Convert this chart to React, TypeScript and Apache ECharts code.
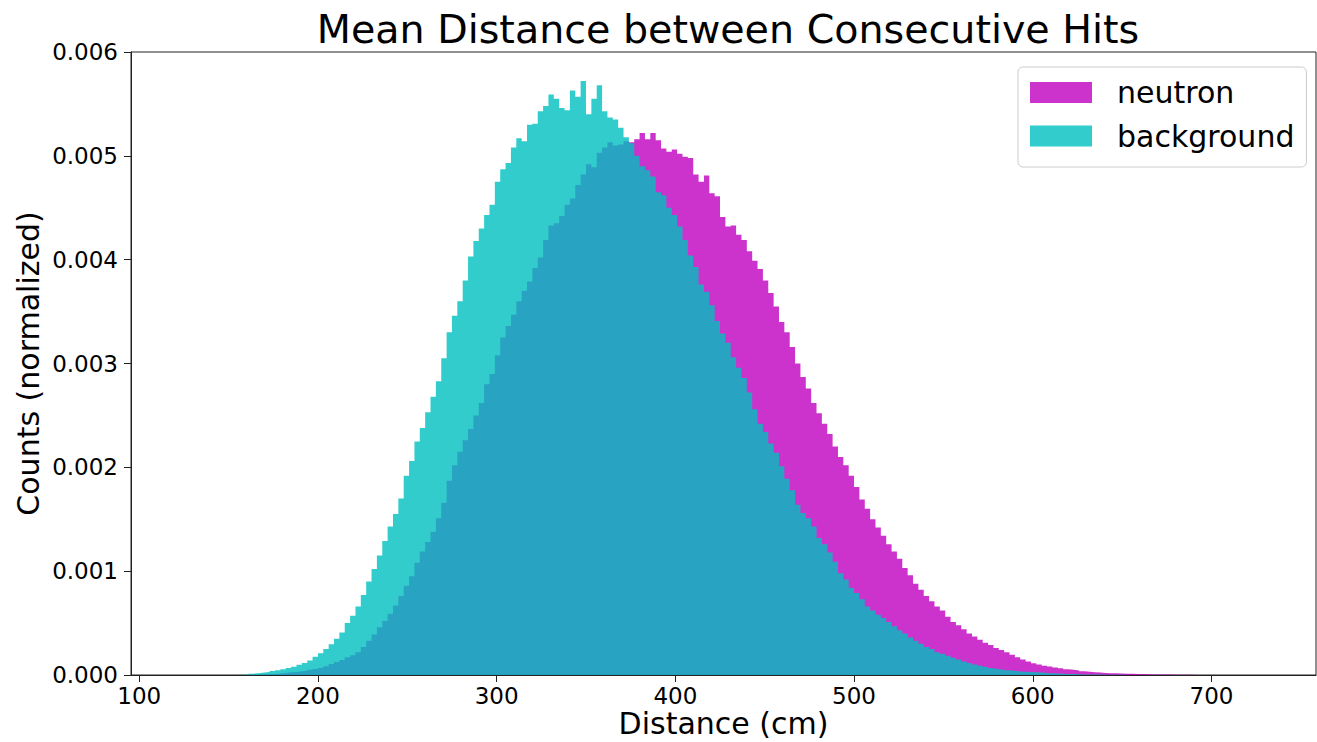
import React, { useEffect, useRef } from "react";
import * as echarts from "echarts";

// Histogram bins: left edge of first bin and bin width (cm)
const BIN_START = 149;
const BIN_WIDTH = 3;
// Values below are in units of 1e-4 (normalized counts)
const VALUE_UNIT = 1e-4;

const neutron: number[] = [
  0.0, 0.0, 0.01, 0.01, 0.02, 0.03, 0.05, 0.07, 0.1, 0.14,
  0.2, 0.26, 0.3, 0.36, 0.42, 0.5, 0.58, 0.68, 0.85, 1.05,
  1.25, 1.45, 1.7, 1.9, 2.2, 2.7, 3.3, 3.9, 4.6, 5.2,
  5.9, 6.7, 7.6, 8.6, 9.5, 10.8, 11.9, 12.8, 13.8, 15.1,
  16.6, 18.7, 20.2, 21.5, 22.6, 23.7, 25.0, 26.2, 28.0, 29.0,
  30.8, 32.5, 33.6, 34.7, 36.0, 37.0, 37.9, 39.2, 40.2, 41.9,
  43.3, 43.5, 44.2, 45.3, 45.9, 47.2, 48.2, 49.2, 48.9, 50.3,
  50.8, 51.3, 51.0, 51.1, 51.4, 51.3, 51.6, 52.2, 51.6, 52.2,
  51.5, 50.7, 50.4, 50.6, 50.2, 49.9, 49.8, 48.2, 47.5, 48.1,
  46.4, 46.1, 44.1, 43.2, 43.3, 42.4, 41.9, 40.8, 39.9, 39.1,
  38.0, 36.8, 35.5, 34.0, 33.0, 31.6, 30.0, 28.7, 27.6, 26.2,
  25.2, 24.2, 23.2, 22.0, 21.0, 20.2, 19.2, 18.1, 16.9, 16.0,
  15.0, 14.2, 13.4, 12.6, 11.9, 11.2, 10.3, 9.6, 8.8, 8.2,
  7.6, 7.1, 6.6, 6.2, 5.6, 5.1, 4.8, 4.4, 4.0, 3.7,
  3.4, 3.1, 2.9, 2.6, 2.4, 2.2, 1.95, 1.7, 1.5, 1.3,
  1.12, 1.0, 0.9, 0.82, 0.72, 0.64, 0.56, 0.5, 0.44, 0.37,
  0.32, 0.27, 0.23, 0.2, 0.18, 0.16, 0.15, 0.13, 0.12, 0.1,
  0.09, 0.08, 0.06, 0.05, 0.05, 0.04, 0.03, 0.02, 0.02, 0.02,
  0.01, 0.01, 0.01, 0.01,
];

const background: number[] = [
  0.01, 0.01, 0.02, 0.04, 0.13, 0.18, 0.24, 0.3, 0.38, 0.46,
  0.55, 0.68, 0.8, 0.98, 1.15, 1.4, 1.75, 2.1, 2.5, 2.95,
  3.5, 4.1, 5.0, 5.7, 6.6, 7.7, 9.0, 10.2, 11.5, 12.9,
  14.3, 15.5, 17.0, 19.2, 20.6, 22.5, 23.8, 25.3, 26.8, 28.3,
  30.5, 33.0, 34.6, 36.0, 38.0, 40.3, 41.8, 43.0, 44.3, 45.3,
  47.5, 48.7, 49.3, 50.8, 51.7, 51.4, 53.0, 53.1, 54.3, 54.8,
  55.9, 55.5, 54.6, 54.4, 56.3, 55.7, 57.2, 54.0, 55.5, 56.8,
  54.3, 53.7, 53.5, 52.7, 51.8, 51.2, 50.0, 49.0, 48.6, 48.0,
  46.5, 46.2, 45.0, 44.3, 43.2, 41.9, 40.4, 39.3, 37.6, 36.9,
  35.6, 34.1, 32.9, 32.0, 30.6, 29.6, 28.6, 27.2, 25.6, 24.2,
  23.4, 22.3, 21.4, 20.1, 18.9, 17.8, 16.4, 15.6, 15.1, 14.3,
  13.2, 12.6, 11.8, 10.9, 9.8, 9.2, 8.4, 7.9, 7.3, 6.6,
  6.2, 5.8, 5.5, 5.1, 4.7, 4.3, 4.0, 3.6, 3.3, 3.0,
  2.7, 2.5, 2.2, 2.05, 1.85, 1.65, 1.5, 1.3, 1.15, 1.0,
  0.9, 0.8, 0.68, 0.6, 0.52, 0.45, 0.4, 0.34, 0.31, 0.28,
  0.26, 0.23, 0.2, 0.17, 0.14, 0.12, 0.1, 0.09, 0.07, 0.06,
  0.05, 0.04, 0.04, 0.03, 0.03, 0.02, 0.02, 0.01, 0.01, 0.01,
  0.01,
];

const xTicks = [100, 200, 300, 400, 500, 600, 700];
const X_MIN = 95.4;
const X_MAX = 758.5;

const FONT = "DejaVu Sans";

function toSteps(vals: number[]): number[][] {
  const pts = vals.map((v, i) => [BIN_START + i * BIN_WIDTH, v * VALUE_UNIT]);
  pts.push([BIN_START + vals.length * BIN_WIDTH, 0]);
  return pts;
}

export default function App() {
  const ref = useRef<HTMLDivElement>(null);
  useEffect(() => {
    if (!ref.current) return;
    const chart = echarts.init(ref.current, undefined, { renderer: "svg" });
    chart.setOption({
      animation: false,
      backgroundColor: "#ffffff",
      title: {
        text: "Mean Distance between Consecutive Hits",
        left: 723,
        top: 4,
        textAlign: "center",
        textStyle: { fontFamily: FONT, fontSize: 39.6, fontWeight: "normal", color: "#000" },
      },
      grid: {
        left: 131,
        right: 1,
        top: 52,
        bottom: 67,
        outerBoundsMode: "none",
        show: true,
        borderColor: "#222",
        borderWidth: 1,
        backgroundColor: "transparent",
      },
      legend: {
        orient: "vertical",
        left: 1018,
        top: 67,
        icon: "rect",
        itemWidth: 62,
        itemHeight: 21,
        itemGap: 13.5,
        padding: [10.5, 12, 16, 12],
        borderColor: "#cccccc",
        borderWidth: 1,
        borderRadius: 5,
        backgroundColor: "rgba(255,255,255,0.8)",
        itemStyle: { borderWidth: 0 },
        textStyle: { fontFamily: FONT, fontSize: 30, color: "#000", lineHeight: 28, padding: [0, 0, 0, 20] },
        data: [
          { name: "neutron", itemStyle: { color: "#cc33cc" } },
          { name: "background", itemStyle: { color: "#33cccc" } },
        ],
      },
      xAxis: {
        type: "value",
        min: X_MIN,
        max: X_MAX,
        name: "Distance (cm)",
        nameLocation: "middle",
        nameGap: 34.5,
        nameMoveOverlap: false,
        nameTextStyle: { fontFamily: FONT, fontSize: 30, color: "#000", lineHeight: 28 },
        splitLine: { show: false },
        axisLine: { show: true, onZero: false, lineStyle: { color: "#222", width: 1 } },
        axisTick: { show: true, length: 7, lineStyle: { color: "#222" }, customValues: xTicks },
        axisLabel: { fontFamily: FONT, fontSize: 23, color: "#000", margin: 9, customValues: xTicks },
      },
      yAxis: {
        type: "value",
        min: 0,
        max: 0.006,
        interval: 0.001,
        name: "Counts (normalized)",
        nameLocation: "middle",
        nameGap: 88,
        nameMoveOverlap: false,
        nameTextStyle: { fontFamily: FONT, fontSize: 30, color: "#000", lineHeight: 30 },
        splitLine: { show: false },
        axisLine: { show: true, lineStyle: { color: "#222", width: 1 } },
        axisTick: { show: true, length: 7, lineStyle: { color: "#222" } },
        axisLabel: {
          fontFamily: FONT,
          fontSize: 23,
          color: "#000",
          margin: 13,
          formatter: (v: number) => v.toFixed(3),
        },
      },
      series: [
        {
          name: "neutron",
          type: "line",
          step: "end",
          symbol: "none",
          color: "#bf00bf",
          lineStyle: { width: 0, opacity: 0 },
          areaStyle: { color: "#bf00bf", opacity: 0.8 },
          data: toSteps(neutron),
        },
        {
          name: "background",
          type: "line",
          step: "end",
          symbol: "none",
          color: "#00bfbf",
          lineStyle: { width: 0, opacity: 0 },
          areaStyle: { color: "#00bfbf", opacity: 0.8 },
          data: toSteps(background),
        },
      ],
    });
    return () => chart.dispose();
  }, []);
  return (
    <div
      ref={ref}
      style={{ position: "fixed", left: 0, top: 0, width: 1317, height: 742 }}
    />
  );
}
